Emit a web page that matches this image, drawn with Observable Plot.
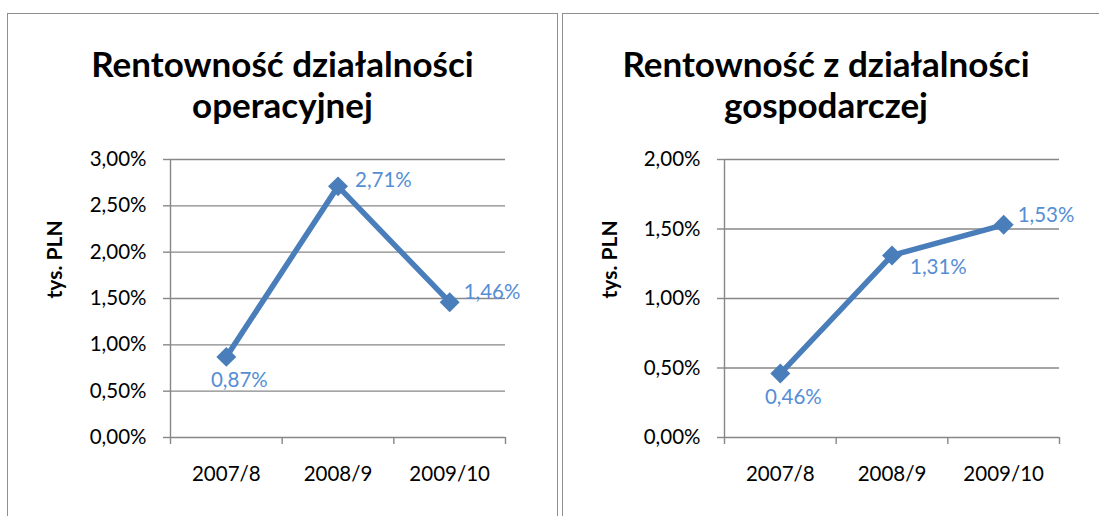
<!DOCTYPE html>
<html>
<head>
<meta charset="utf-8">
<script src="https://cdn.jsdelivr.net/npm/d3@7"></script>
<script src="https://cdn.jsdelivr.net/npm/@observablehq/plot@0.6"></script>
<style>
  html, body { margin: 0; padding: 0; background: #fff; }
  #root { position: relative; width: 1099px; height: 516px; overflow: hidden; background: #fff; font-family: Lato, "Open Sans", sans-serif; }
  .panel { position: absolute; top: 13px; height: 520px; border: 1.5px solid #8f8f8f; box-sizing: border-box; }
  .title { position: absolute; top: 43px; text-align: center; font-weight: bold; font-size: 35px; line-height: 41px; color: #000; }
  .chart { position: absolute; top: 140px; }
</style>
</head>
<body>
<div id="root"></div>
<script>
// ---- data ----
const categories = ["2007/8", "2008/9", "2009/10"];
const operacyjnaValues = [0.87, 2.71, 1.46];      // %
const gospodarczaValues = [0.46, 1.31, 1.53];     // %
const operacyjnaTicks = [0, 0.5, 1, 1.5, 2, 2.5, 3];
const gospodarczaTicks = [0, 0.5, 1, 1.5, 2];
const operacyjnaTitle = ["Rentowność działalności", "operacyjnej"];
const gospodarczaTitle = ["Rentowność z działalności", "gospodarczej"];
const yLabel = "tys. PLN";

// ---- styling / layout ----
const LINE = "#4A7EBB";
const LABEL = "#558ED5";
const GRID = "#878787";
const FS = 20.5;
const fmt = v => v.toFixed(2).replace(".", ",") + "%";

const placements = {
  below:      {dx: 13, dy: 24, textAnchor: "middle"},
  upRight:    {dx: 17, dy: -6, textAnchor: "start"},
  right:      {dx: 14, dy: -10, textAnchor: "start"},
  downRight:  {dx: 18, dy: 12, textAnchor: "start"},
  rightUp2:   {dx: 14, dy: -9, textAnchor: "start"}
};

const panels = [
  {panelLeft: 7, panelWidth: 551, svgLeft: 7, svgWidth: 550, marginLeft: 163, marginRight: 52,
   title: operacyjnaTitle, values: operacyjnaValues, ticks: operacyjnaTicks,
   place: ["below", "upRight", "right"]},
  {panelLeft: 562, panelWidth: 528, svgLeft: 562, svgWidth: 537, marginLeft: 162, marginRight: 40,
   title: gospodarczaTitle, values: gospodarczaValues, ticks: gospodarczaTicks,
   place: ["below", "downRight", "rightUp2"]}
];

const root = document.getElementById("root");

for (const p of panels) {
  const panel = document.createElement("div");
  panel.className = "panel";
  panel.style.left = p.panelLeft + "px";
  panel.style.width = (p.panelWidth + 600 * (p.panelLeft > 100 ? 1 : 0)) + "px";
  root.appendChild(panel);

  const title = document.createElement("div");
  title.className = "title";
  title.style.left = p.panelLeft + "px";
  title.style.width = p.panelWidth + "px";
  title.innerHTML = p.title.join("<br>");
  root.appendChild(title);

  const data = categories.map((c, i) => ({cat: c, i, x: i + 0.5, v: p.values[i], place: placements[p.place[i]]}));
  const labelMarks = data.map(d => Plot.text([d], {
    x: "x", y: "v", text: d => fmt(d.v), fill: LABEL,
    dx: d.place.dx, dy: d.place.dy, textAnchor: d.place.textAnchor, fontSize: FS
  }));

  const chart = Plot.plot({
    width: p.svgWidth,
    height: 376,
    marginLeft: p.marginLeft,
    marginRight: p.marginRight,
    marginTop: 19,
    marginBottom: 79,
    style: {fontFamily: "Lato, 'Open Sans', sans-serif", fontSize: FS + "px", color: "#000", background: "transparent", overflow: "visible"},
    x: {type: "linear", domain: [0, categories.length]},
    y: {domain: [p.ticks[0], p.ticks[p.ticks.length - 1]]},
    marks: [
      Plot.gridY(p.ticks, {stroke: GRID, strokeOpacity: 1, strokeWidth: 1.4}),
      Plot.axisY(p.ticks, {tickSize: 7, tickPadding: 17, stroke: GRID, strokeWidth: 1.4, fill: "#000", tickFormat: fmt, label: null}),
      Plot.axisX(d3.range(categories.length + 1), {tickSize: 7, stroke: GRID, strokeWidth: 1.4, tickFormat: () => "", label: null}),
      Plot.axisX(data.map(d => d.x), {tickSize: 0, tickPadding: 29, fill: "#000", tickFormat: x => categories[Math.floor(x)], label: null}),
      Plot.ruleX([0], {stroke: GRID, strokeWidth: 1.4}),
      Plot.text([yLabel], {frameAnchor: "left", dx: -(p.marginLeft - 48), rotate: -90, fontWeight: "bold", fontSize: 21, fill: "#000", text: d => d}),
      Plot.line(data, {x: "x", y: "v", stroke: LINE, strokeWidth: 5.5, strokeLinejoin: "round"}),
      Plot.dot(data, {x: "x", y: "v", symbol: "diamond2", r: 9, fill: LINE, stroke: null}),
      ...labelMarks
    ]
  });
  chart.classList.add("chart");
  chart.style.left = p.svgLeft + "px";
  chart.style.position = "absolute";
  chart.style.top = "140px";
  root.appendChild(chart);
}
</script>
</body>
</html>
